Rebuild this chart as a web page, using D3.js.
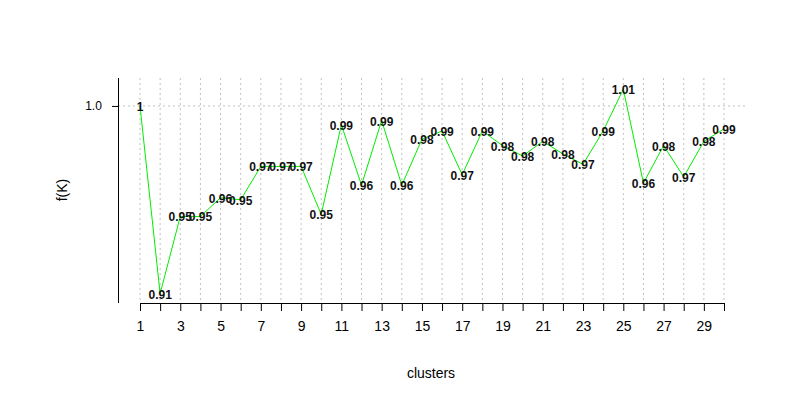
<!DOCTYPE html>
<html>
<head>
<meta charset="utf-8">
<script src="https://cdn.jsdelivr.net/npm/d3@7"></script>
<style>
  body { margin: 0; background: #fff; }
  text { font-family: "Liberation Sans", Arial, sans-serif; }
</style>
</head>
<body>
<div class="chart"></div>
<script>
// data
const clusters = d3.range(1, 31);
const fK = [1.0, 0.910, 0.947, 0.947, 0.956, 0.955, 0.971, 0.971, 0.971, 0.948,
            0.991, 0.962, 0.993, 0.962, 0.984, 0.988, 0.967, 0.988, 0.981, 0.976,
            0.983, 0.977, 0.972, 0.988, 1.008, 0.963, 0.981, 0.966, 0.983, 0.989];
const xTicks = d3.range(1, 30, 2);
const yTicks = [1.0];

const width = 788, height = 401;
const plot = { left: 118, right: 748, top: 78, bottom: 303 };

const svg = d3.select('.chart').append('svg')
    .attr('width', width)
    .attr('height', height);

const xScale = d3.scaleLinear().domain([1, 30]).range([140, 724]);
const yScale = d3.scaleLinear().domain([0.9055, 1.0134]).range([plot.bottom, plot.top]);

// grid
svg.append('g').selectAll('line')
    .data(clusters).enter().append('line')
    .attr('x1', d => xScale(d)).attr('x2', d => xScale(d))
    .attr('y1', plot.top).attr('y2', plot.bottom)
    .attr('stroke', '#c0c0c0').attr('stroke-dasharray', '2,3');
svg.append('g').selectAll('line')
    .data(yTicks).enter().append('line')
    .attr('x1', plot.left).attr('x2', plot.right)
    .attr('y1', d => yScale(d)).attr('y2', d => yScale(d))
    .attr('stroke', '#c0c0c0').attr('stroke-dasharray', '2,3');

// axes
const xAxis = svg.append('g')
    .attr('transform', `translate(0, ${plot.bottom})`)
    .call(d3.axisBottom(xScale).tickValues(clusters).tickSize(8).tickSizeOuter(0)
        .tickFormat(d => xTicks.includes(d) ? d : ''));
xAxis.select('.domain').attr('d', `M${xScale(1)},0.5H${xScale(30)}`).attr('stroke', '#000');
xAxis.selectAll('text').attr('font-size', 14).attr('dy', '1.2em').attr('fill', '#000');

const yAxis = svg.append('g')
    .attr('transform', `translate(${plot.left}, 0)`)
    .call(d3.axisLeft(yScale).tickValues(yTicks).tickSize(6).tickFormat(d3.format('.1f')));
yAxis.select('.domain').attr('d', `M0.5,${plot.top}V${plot.bottom}`).attr('stroke', '#000');
yAxis.selectAll('text').attr('font-size', 12).attr('dx', '-0.6em').attr('fill', '#000');

// line
const line = d3.line().x((d, i) => xScale(clusters[i])).y(d => yScale(d));
svg.append('path').datum(fK)
    .attr('d', line)
    .attr('fill', 'none')
    .attr('stroke', '#00ee00')
    .attr('stroke-width', 1);

// point labels
svg.append('g').selectAll('text')
    .data(fK).enter().append('text')
    .attr('x', (d, i) => xScale(clusters[i]))
    .attr('y', d => yScale(d) + 5)
    .attr('text-anchor', 'middle')
    .attr('font-size', 12)
    .attr('font-weight', 'bold')
    .attr('fill', '#111')
    .text(d => d === 1 ? '1' : d3.format('.2f')(d));

// titles
svg.append('text').attr('x', 431).attr('y', 378)
    .attr('text-anchor', 'middle').attr('font-size', 14).text('clusters');
svg.append('text')
    .attr('transform', 'translate(67, 190) rotate(-90)')
    .attr('text-anchor', 'middle').attr('font-size', 14).text('f(K)');
</script>
</body>
</html>
